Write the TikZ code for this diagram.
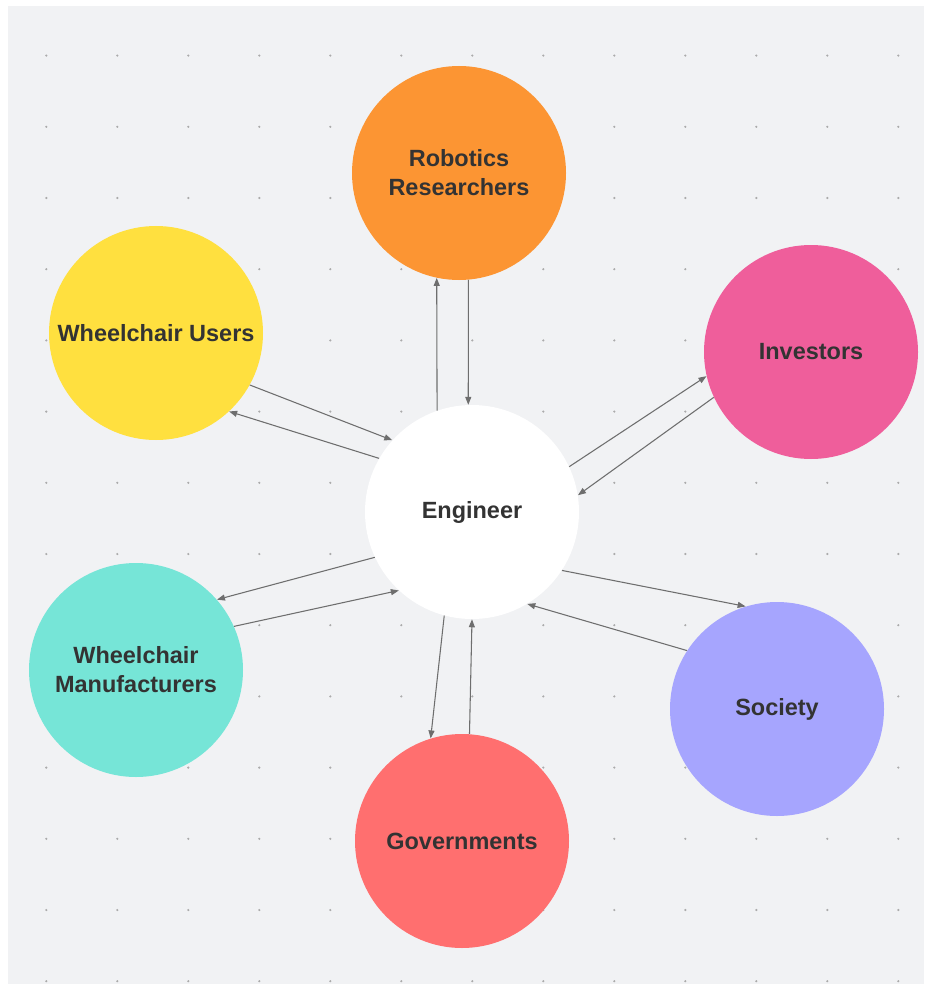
\documentclass[tikz,border=0pt]{standalone}
\usepackage{fontspec}
\setmainfont{Liberation Sans}
\usetikzlibrary{arrows.meta}

\definecolor{canvas}{HTML}{F1F2F4}
\definecolor{griddot}{HTML}{ABABAB}
\definecolor{linkgray}{HTML}{6E6E6E}
\definecolor{txt}{HTML}{333333}
\definecolor{robc}{HTML}{FC9533}
\definecolor{userc}{HTML}{FFE03F}
\definecolor{invc}{HTML}{EF5E9B}
\definecolor{manc}{HTML}{76E5D7}
\definecolor{socc}{HTML}{A6A5FE}
\definecolor{govc}{HTML}{FF6F6F}

\tikzstyle{party}=[circle,minimum size=160.5pt,inner sep=0pt,align=center,
    text=txt,font=\fontsize{17.6}{21.8}\selectfont\bfseries]
\tikzstyle{flow}=[draw,linkgray,line width=0.8pt,
    -{Triangle[length=6pt,width=4.5pt]}]

\begin{document}
\begin{tikzpicture}[x=0.75pt, y=-0.75pt]
    \useasboundingbox (0,0) rectangle (924,984);
    \fill[canvas] (8,6) rectangle (924,984);
    % dotted grid behind everything
    \foreach \i in {0,...,12}
        \foreach \j in {0,...,13}
            \fill[griddot] ({46.3+71*\i},{55.6+71.2*\j}) circle (0.9pt);

    % First the stakeholder circles
    \foreach \pos/\name/\col/\txt in {{(472,512)/eng/white/Engineer},
            {(459,173)/rob/robc/{Robotics\\Researchers}},
            {(156,333)/users/userc/{Wheelchair Users}},
            {(811,352)/inv/invc/Investors},
            {(136,670)/makers/manc/{Wheelchair\\Manufacturers}},
            {(777,709)/soc/socc/Society},
            {(462,841)/gov/govc/Governments}}
        \node[party, fill=\col] (\name) at \pos {\txt};

    % Then the two-way links around the engineer
    \foreach \source/\sa/\dest/\da in {eng/109.4/rob/258, rob/-85/eng/92,
            users/-29.4/eng/138.8, eng/150.6/users/-47.6,
            eng/25.1/inv/193.9, inv/205.9/eng/9.5,
            eng/205.9/makers/41.6, makers/24.9/eng/227.6,
            eng/-33.4/soc/107.9, soc/147.7/eng/-59.2,
            eng/-105.5/gov/107.1, gov/86.8/eng/-90}
        \path[flow] (\source.\sa) -- (\dest.\da);
\end{tikzpicture}
\end{document}
